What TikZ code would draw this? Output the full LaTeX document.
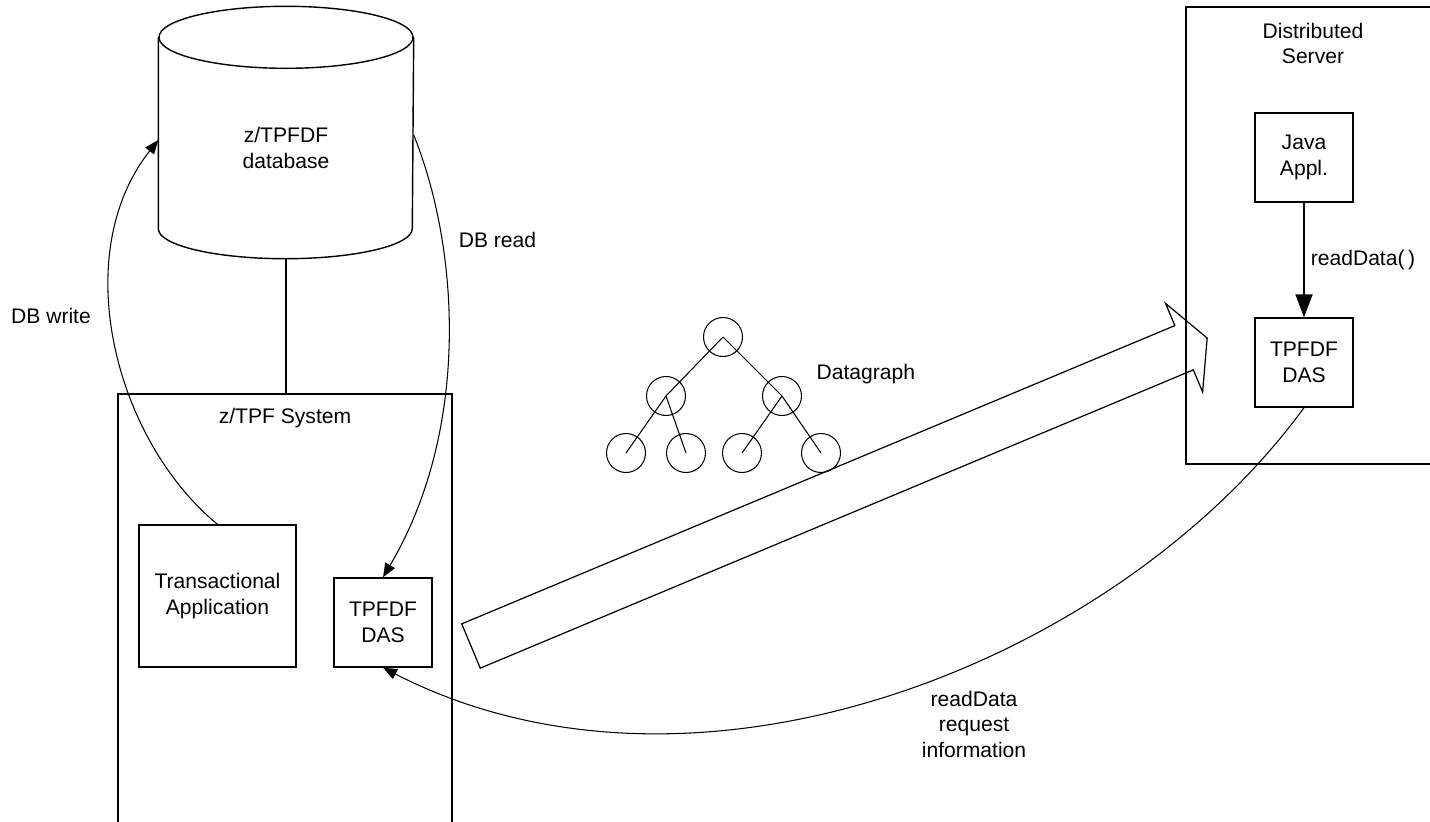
\documentclass[tikz,border=0pt]{standalone}
\usepackage{fontspec}
\setmainfont{Liberation Sans}
\usetikzlibrary{arrows.meta,positioning}

\begin{document}
\begin{tikzpicture}[
  font=\fontsize{12}{14.5}\selectfont,
  line width=0.8pt,
  bx/.style={rectangle, draw, align=center, minimum width=1.96cm, minimum height=1.78cm, inner sep=0pt},
  frm/.style={rectangle, inner sep=0pt},
  cl/.style={circle, draw, line width=0.6pt, minimum size=0.78cm, inner sep=0pt},
  a/.style={line width=0.6pt, -{Triangle[length=0.28cm, width=0.22cm]}},
  ah/.style={line width=1.1pt, -{Triangle[length=0.46cm, width=0.34cm]}}
]
\useasboundingbox (0,0) rectangle (28.6,-16.42);

% database cylinder
\node[frm, minimum width=5.08cm, minimum height=4.4cm, align=center] (db) at (5.72,-2.96) {z/TPFDF\\database};
\draw (db.north) ellipse[x radius=2.54cm, y radius=0.62cm];
\draw (db.north west) -- ([yshift=0.6cm]db.south west)
  arc[start angle=180, end angle=360, x radius=2.54cm, y radius=0.6cm] -- (db.north east);

% z/TPF system
\node[frm, minimum width=6.64cm, minimum height=8.7cm] (zsys) at (5.70,-12.25) {};
\draw[line width=1pt] (zsys.south west) |- (zsys.north east) -- (zsys.south east);
\node (zlbl) at (5.70,-8.36) {z/TPF System};
\node[bx, minimum width=3.14cm, minimum height=2.84cm] (trans) at (4.35,-11.92) {Transactional\\Application};
\node[bx] (ldas) at (7.66,-12.45) {TPFDF\\DAS};
\draw (db.south) -- (db.south |- zsys.north);

% distributed server
\node[frm, minimum width=5.06cm, minimum height=9.1cm] (dsrv) at (26.27,-4.71) {};
\draw[line width=1pt] (dsrv.north east) -| (dsrv.south west) -- (dsrv.south east);
\node[align=center] (dlbl) at (26.26,-0.87) {Distributed\\Server};
\node[bx] (java) at (26.08,-3.15) {Java\\Appl.};
\node[bx] (rdas) at (26.08,-7.25) {TPFDF\\DAS};
\draw[ah] (java) -- node[right] {readData(\,)} (rdas);

% datagraph
\node[cl] (g0) at (14.46,-6.74) {};
\node[cl] (g1) at (13.32,-7.92) {};
\node[cl] (g2) at (15.64,-7.92) {};
\node[cl] (g3) at (12.52,-9.06) {};
\node[cl] (g4) at (13.72,-9.06) {};
\node[cl] (g5) at (14.84,-9.06) {};
\node[cl] (g6) at (16.42,-9.06) {};
\foreach \p/\c in {g0/g1, g0/g2, g1/g3, g1/g4, g2/g5, g2/g6}
  \draw[line width=0.6pt] (\p.center) -- (\c.center);
\node[anchor=west] (glbl) at (16.20,-7.48) {Datagraph};

% transfer arrow
\draw[line width=0.7pt, shift={(9.42,-12.92)}, rotate=22.7]
  (0,-0.48) -- (15.46,-0.48) -- (15.46,-0.96) -- (15.96,0) -- (15.46,0.96) -- (15.46,0.48) -- (0,0.48) -- cycle;

% db access
\draw[a] (trans.north) .. controls (2.3,-8.8) and (1.35,-5.1) .. ([yshift=0.16cm]db.west);
\node (wlbl) at (1.02,-6.32) {DB write};
\draw[a] ([yshift=0.26cm]db.east) .. controls (9.2,-5.0) and (9.4,-8.6) .. (ldas.north);
\node (rlbl) at (9.95,-4.80) {DB read};

% request
\draw[a] (rdas.south) .. controls (22.4,-13.2) and (14.0,-16.6) .. (ldas.south);
\node[align=center] (qlbl) at (19.48,-14.48) {readData\\request\\information};
\end{tikzpicture}
\end{document}
